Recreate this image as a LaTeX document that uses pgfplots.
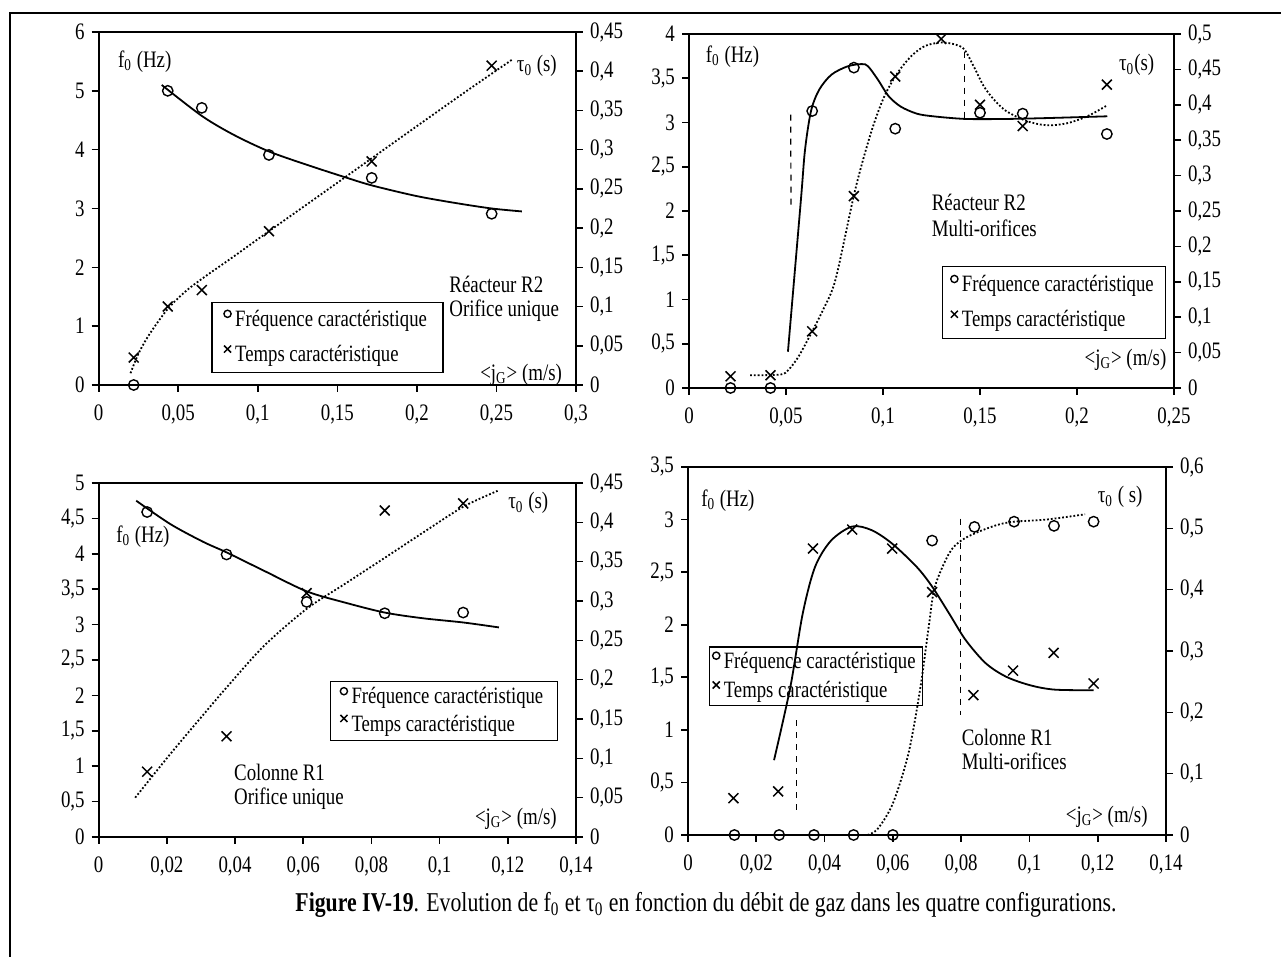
\documentclass[border=0pt]{standalone}
\usepackage{fontspec}
\setmainfont{Liberation Serif}[FakeStretch=0.8]
\usepackage{pgfplots}
\pgfplotsset{compat=1.18}

% common look of the four panels
\pgfplotsset{
  panel/.style={
    scale only axis, clip=false, anchor=south west,
    axis line style={line width=0.9pt},
    every tick/.style={black, line width=0.8pt},
    major tick length=3.5pt,
    tick align=outside,
    scaled ticks=false,
    /pgf/number format/assume math mode=true,
    /pgf/number format/use comma,
    /pgf/number format/fixed,
    /pgf/number format/precision=2,
    tick label style={font=\fontsize{11.8}{13}\selectfont},
    xticklabel style={yshift=-3pt},
  },
  leftax/.style={panel, xtick pos=bottom, ytick pos=left},
  rightax/.style={panel, axis x line=none, axis y line*=right},
  fcirc/.style={only marks, mark=o, mark size=2.6pt, mark options={line width=0.7pt},
    legend image code/.code={\draw[##1, mark size=1.8pt] plot coordinates {(0pt,3pt)};}},
  tcross/.style={only marks, mark=x, mark size=3.5pt, mark options={line width=0.75pt},
    legend image code/.code={\draw[##1, mark size=2.5pt] plot coordinates {(0pt,3pt)};}},
  fit/.style={smooth, line width=0.9pt, no markers, forget plot},
  dfit/.style={smooth, densely dotted, line width=0.9pt, no markers, forget plot},
  vdash/.style={dashed, line width=0.6pt, no markers, forget plot},
  leg/.style={legend cell align=left,
    legend style={draw=black, fill=none, line width=0.6pt, anchor=south west,
      font=\fontsize{11.7}{13}\selectfont}},
}
\tikzset{txt/.style={font=\fontsize{11.8}{12}\selectfont, inner sep=0pt}}

\begin{document}
\begin{tikzpicture}[x=1pt,y=1pt]
\path[use as bounding box] (0,0) rectangle (640.5,478.5);
\draw[line width=1.4pt] (5,0) -- (5,472) -- (640.5,472);

% ---------- top left: Réacteur R2, orifice unique
\begin{axis}[leftax, at={(49.35pt,286pt)}, width=238.65pt, height=176.5pt,
  xmin=0, xmax=0.3, ymin=0, ymax=6,
  xtick={0,0.05,0.1,0.15,0.2,0.25,0.3}, ytick={0,1,2,3,4,5,6}]
\addplot[fcirc] coordinates {(0.022,0) (0.0434,5.0) (0.0648,4.71) (0.107,3.91) (0.1716,3.52) (0.247,2.91)};
\addplot[fit] coordinates {(0.0396,5.1) (0.065,4.57) (0.085,4.25) (0.107,3.97) (0.13,3.75) (0.155,3.53)
  (0.172,3.39) (0.2,3.21) (0.225,3.09) (0.247,3.0) (0.266,2.95)};
\node[txt, anchor=west] at (rel axis cs:0.04,0.917) {f\textsubscript{0} (Hz)};
\node[txt] at (rel axis cs:0.918,0.903) {τ\textsubscript{0} (s)};
\node[txt, anchor=west, align=left] at (rel axis cs:0.734,0.244) {Réacteur R2\\Orifice unique};
\node[txt] at (rel axis cs:0.885,0.03) {\textless j\textsubscript{G}\textgreater{} (m/s)};
\end{axis}
\begin{axis}[rightax, leg, at={(49.35pt,286pt)}, width=238.65pt, height=176.5pt,
  xmin=0, xmax=0.3, ymin=0, ymax=0.45,
  ytick={0,0.05,0.1,0.15,0.2,0.25,0.3,0.35,0.4,0.45},
  legend style={at={(0.236,0.033)}, inner xsep=6pt, inner ysep=2pt, row sep=4pt}]
\addlegendimage{fcirc}\addlegendentry{Fréquence caractéristique}
\addplot[tcross] coordinates {(0.022,0.035) (0.0434,0.1) (0.0648,0.121) (0.107,0.196) (0.1716,0.285) (0.247,0.407)};
\addlegendentry{Temps caractéristique}
\addplot[dfit] coordinates {(0.02,0.015) (0.025,0.04) (0.032,0.065) (0.0434,0.097) (0.055,0.12) (0.066,0.137)
  (0.085,0.164) (0.107,0.196) (0.13,0.229) (0.155,0.265) (0.1716,0.289) (0.2,0.33) (0.23,0.373) (0.26,0.415)};
\end{axis}

% ---------- top right: Réacteur R2, multi-orifices
\begin{axis}[leftax, at={(344.5pt,284.5pt)}, width=242.5pt, height=177pt,
  xmin=0, xmax=0.25, ymin=0, ymax=4,
  xtick={0,0.05,0.1,0.15,0.2,0.25}, ytick={0,0.5,1,1.5,2,2.5,3,3.5,4}]
\addplot[fcirc] coordinates {(0.0214,0) (0.042,0) (0.0635,3.13) (0.085,3.62) (0.1063,2.93) (0.150,3.11) (0.172,3.10) (0.2154,2.87)};
\addplot[fit] coordinates {(0.051,0.41) (0.0577,2.13) (0.0598,2.69) (0.0629,3.13) (0.0671,3.37) (0.0734,3.54)
  (0.0818,3.635) (0.0891,3.66) (0.0923,3.635) (0.0975,3.48) (0.1028,3.3) (0.1091,3.18) (0.1174,3.1)
  (0.1258,3.07) (0.1426,3.04) (0.1636,3.04) (0.1846,3.05) (0.2156,3.07)};
\addplot[vdash] coordinates {(0.0524,3.09) (0.0526,2.03)};
\addplot[vdash] coordinates {(0.142,3.8) (0.142,2.99)};
\node[txt, anchor=west] at (rel axis cs:0.034,0.937) {f\textsubscript{0} (Hz)};
\node[txt] at (rel axis cs:0.923,0.913) {τ\textsubscript{0}(s)};
\node[txt, anchor=west, align=left, font=\fontsize{11.8}{13}\selectfont] at (rel axis cs:0.50,0.487) {Réacteur R2\\Multi-orifices};
\node[txt] at (rel axis cs:0.9,0.08) {\textless j\textsubscript{G}\textgreater{} (m/s)};
\end{axis}
\begin{axis}[rightax, leg, at={(344.5pt,284.5pt)}, width=242.5pt, height=177pt,
  xmin=0, xmax=0.25, ymin=0, ymax=0.5,
  ytick={0,0.05,0.1,0.15,0.2,0.25,0.3,0.35,0.4,0.45,0.5},
  legend style={at={(0.522,0.137)}, inner xsep=4pt, inner ysep=2.5pt, row sep=4pt}]
\addlegendimage{fcirc}\addlegendentry{Fréquence caractéristique}
\addplot[tcross] coordinates {(0.0214,0.0165) (0.042,0.018) (0.0635,0.080) (0.085,0.271) (0.1063,0.440) (0.130,0.493)
  (0.150,0.400) (0.172,0.370) (0.2154,0.4285)};
\addlegendentry{Temps caractéristique}
\addplot[dfit] coordinates {(0.0315,0.018) (0.0472,0.019) (0.0514,0.026) (0.0566,0.045) (0.0635,0.080) (0.0692,0.111)
  (0.0755,0.153) (0.0849,0.271) (0.0902,0.327) (0.0954,0.374) (0.1007,0.412) (0.107,0.443) (0.1143,0.468)
  (0.1216,0.483) (0.130,0.488) (0.1374,0.485) (0.142,0.478) (0.1468,0.454) (0.152,0.426) (0.1573,0.407)
  (0.1636,0.391) (0.1741,0.377) (0.1846,0.371) (0.195,0.374) (0.2055,0.384) (0.2154,0.399)};
\end{axis}

% ---------- bottom left: Colonne R1, orifice unique
\begin{axis}[leftax, at={(49.35pt,60pt)}, width=238.65pt, height=177pt,
  xmin=0, xmax=0.14, ymin=0, ymax=5,
  xtick={0,0.02,0.04,0.06,0.08,0.1,0.12,0.14}, ytick={0,0.5,1,1.5,2,2.5,3,3.5,4,4.5,5}]
\addplot[fcirc] coordinates {(0.0142,4.59) (0.0375,3.99) (0.061,3.32) (0.0839,3.16) (0.1069,3.17)};
\addplot[fit] coordinates {(0.011,4.75) (0.021,4.42) (0.0306,4.17) (0.0375,4.02) (0.0485,3.76) (0.061,3.47)
  (0.0723,3.31) (0.0839,3.17) (0.095,3.09) (0.1069,3.03) (0.1174,2.96)};
\node[txt, anchor=west] at (rel axis cs:0.036,0.849) {f\textsubscript{0} (Hz)};
\node[txt] at (rel axis cs:0.90,0.943) {τ\textsubscript{0} (s)};
\node[txt, anchor=west, align=left] at (rel axis cs:0.283,0.142) {Colonne R1\\Orifice unique};
\node[txt] at (rel axis cs:0.874,0.052) {\textless j\textsubscript{G}\textgreater{} (m/s)};
\end{axis}
\begin{axis}[rightax, leg, at={(49.35pt,60pt)}, width=238.65pt, height=177pt,
  xmin=0, xmax=0.14, ymin=0, ymax=0.45,
  ytick={0,0.05,0.1,0.15,0.2,0.25,0.3,0.35,0.4,0.45},
  legend style={at={(0.484,0.272)}, inner xsep=5pt, inner ysep=1pt, row sep=0pt}]
\addlegendimage{fcirc}\addlegendentry{Fréquence caractéristique}
\addplot[tcross] coordinates {(0.0142,0.083) (0.0375,0.128) (0.061,0.31) (0.0839,0.415) (0.1069,0.424)};
\addlegendentry{Temps caractéristique}
\addplot[dfit] coordinates {(0.0107,0.05) (0.0211,0.106) (0.0306,0.155) (0.0375,0.19) (0.0485,0.243) (0.061,0.29)
  (0.0723,0.322) (0.0836,0.354) (0.0962,0.39) (0.107,0.42) (0.117,0.44)};
\end{axis}

% ---------- bottom right: Colonne R1, multi-orifices
\begin{axis}[leftax, at={(344pt,61pt)}, width=239pt, height=184pt,
  xmin=0, xmax=0.14, ymin=0, ymax=3.5,
  xtick={0,0.02,0.04,0.06,0.08,0.1,0.12,0.14}, ytick={0,0.5,1,1.5,2,2.5,3,3.5}]
\addplot[fcirc] coordinates {(0.0136,0) (0.0267,0) (0.0369,0) (0.0485,0) (0.060,0) (0.0715,2.80) (0.0839,2.93)
  (0.0955,2.98) (0.1072,2.94) (0.1188,2.98)};
\addplot[dfit] coordinates {(0.0526,0) (0.0556,0.06) (0.06,0.30) (0.0646,0.78) (0.0681,1.41) (0.0705,1.98)
  (0.0723,2.36) (0.0765,2.68) (0.08,2.8) (0.0848,2.88) (0.0907,2.95) (0.0955,2.98) (0.105,3.0) (0.1163,3.05)};
\addplot[vdash] coordinates {(0.0318,1.09) (0.0318,0.19)};
\addplot[vdash] coordinates {(0.0797,3.01) (0.0797,1.14)};
\node[txt, anchor=west] at (rel axis cs:0.027,0.909) {f\textsubscript{0} (Hz)};
\node[txt] at (rel axis cs:0.904,0.919) {τ\textsubscript{0} ( s)};
\node[txt, anchor=west, align=left] at (rel axis cs:0.572,0.233) {Colonne R1\\Multi-orifices};
\node[txt] at (rel axis cs:0.876,0.05) {\textless j\textsubscript{G}\textgreater{} (m/s)};
\end{axis}
\begin{axis}[rightax, leg, at={(344pt,61pt)}, width=239pt, height=184pt,
  xmin=0, xmax=0.14, ymin=0, ymax=0.6,
  ytick={0,0.1,0.2,0.3,0.4,0.5,0.6},
  legend style={at={(0.044,0.35)}, inner xsep=1.5pt, inner ysep=0.5pt, row sep=1pt}]
\addlegendimage{fcirc}\addlegendentry{Fréquence caractéristique}
\addplot[tcross] coordinates {(0.0133,0.060) (0.0264,0.071) (0.0366,0.467) (0.0481,0.498) (0.0598,0.467) (0.0715,0.396)
  (0.0836,0.228) (0.0952,0.268) (0.1071,0.297) (0.1188,0.247)};
\addlegendentry{Temps caractéristique}
\addplot[fit] coordinates {(0.0252,0.122) (0.030,0.242) (0.0336,0.361) (0.0372,0.437) (0.0419,0.48) (0.0481,0.503)
  (0.0538,0.497) (0.0598,0.475) (0.067,0.437) (0.0715,0.405) (0.0765,0.361) (0.0813,0.318) (0.0872,0.28)
  (0.0932,0.258) (0.1003,0.244) (0.1074,0.237) (0.1188,0.236)};
\end{axis}

\node[font=\fontsize{13.6}{15}\selectfont] at (353,26) {\textbf{Figure IV-19}. Evolution de f\textsubscript{0} et τ\textsubscript{0} en fonction du débit de gaz dans les quatre configurations.};
\end{tikzpicture}
\end{document}
